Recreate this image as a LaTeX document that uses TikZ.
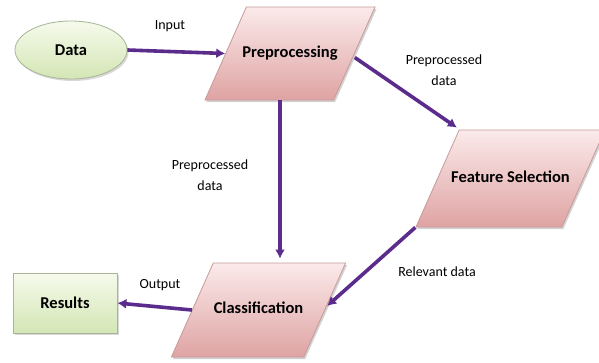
\documentclass[tikz,border=0pt]{standalone}
\usepackage{fontspec}
\setmainfont{Carlito}
\usetikzlibrary{shapes.geometric,arrows.meta,shadows,calc}
\definecolor{flow}{HTML}{5B2C8C}
\definecolor{pinktop}{HTML}{FBEAEA}
\definecolor{pinkbot}{HTML}{DFA3A3}
\definecolor{pinkline}{HTML}{C79A9A}
\definecolor{greentop}{HTML}{F6FAEC}
\definecolor{greenbot}{HTML}{D3E6B4}
\definecolor{greenline}{HTML}{A8B598}
\begin{document}
\begin{tikzpicture}[x=1pt,y=-1pt,
  every node/.style={align=center},
  stage/.style={trapezium, trapezium left angle=66, trapezium right angle=114,
    trapezium stretches body=true, draw=pinkline, line width=0.8pt,
    top color=pinktop, bottom color=pinkbot,
    text height=11pt, text depth=4pt,
    drop shadow={shadow xshift=1.5pt, shadow yshift=-2pt, opacity=0.35},
    font=\fontsize{16.5}{19}\selectfont\bfseries},
  terminal/.style={draw=greenline, line width=0.8pt,
    top color=greentop, bottom color=greenbot,
    drop shadow={shadow xshift=1.5pt, shadow yshift=-2pt, opacity=0.3},
    font=\fontsize{16.5}{19}\selectfont\bfseries},
  flowarrow/.style={draw=flow, line width=3.6pt,
    -{Latex[length=9pt,width=10pt]}},
  lbl/.style={font=\fontsize{14}{21}\selectfont}
]
\path[fill=white] (0,0) rectangle (599,362);
\useasboundingbox (0,0) rectangle (599,362);

% nodes
\node[terminal, ellipse, minimum width=112pt, minimum height=58pt] (data) at (71,50) {Data};
\node[stage, inner ysep=39pt, inner xsep=-4pt] (pre) at (290,53.5) {Preprocessing};
\node[stage, inner ysep=41pt, inner xsep=-8pt] (fs) at (510.5,178.5) {Feature Selection};
\node[stage, inner ysep=39.5pt, inner xsep=0.5pt] (cls) at (258.5,310) {Classification};
\node[terminal, rectangle, minimum width=104pt, minimum height=60pt] (res) at (65,303) {Results};

\coordinate (vx) at (280,0);

% connectors
\draw[flowarrow] (data.east) -- (pre.west);
\draw[flowarrow] ($(pre.east)+(0,4)$) -- ($(fs.top left corner)+(-2,-2)$);
\draw[flowarrow] (pre.south -| vx) -- ($(cls.north -| vx)+(0,-4)$);
\draw[flowarrow] (fs.bottom left corner) -- ($(cls.east)+(2,-4)$);
\draw[flowarrow] (cls.west) -- (res.east);

% labels
\node[lbl] (lin) at (170,26) {Input};
\node[lbl] (lpr) at (444,70) {Preprocessed\\data};
\node[lbl] (lpd) at (210,175) {Preprocessed\\data};
\node[lbl] (lrel) at (437,272) {Relevant data};
\node[lbl] (lout) at (160,285) {Output};
\end{tikzpicture}
\end{document}
